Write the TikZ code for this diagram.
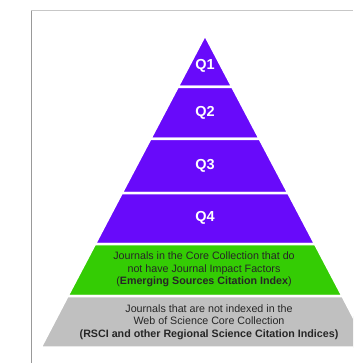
\documentclass[tikz,border=0pt]{standalone}
\usepackage{fontspec}
\setmainfont{Liberation Sans}
\usetikzlibrary{positioning}
\definecolor{tierpurple}{RGB}{104,10,250}
\definecolor{tiergreen}{RGB}{52,204,4}
\definecolor{tiergray}{RGB}{192,192,192}
\tikzset{
  band/.style={fill=#1,draw=white,line width=2.5pt,line join=miter},
  qlabel/.style={text=white,font=\fontsize{14.5}{16}\selectfont\bfseries},
  note/.style={text=black!85,align=center,font=\fontsize{10.7}{12.5}\selectfont}
}

\begin{document}
\begin{tikzpicture}[x=1pt,y=-1pt]
  \useasboundingbox (0,0) rectangle (353,363);
  \clip (0,0) rectangle (353,363);

  % frame
  \draw[black!40,line width=1pt] (31,11)--(31,363);
  \draw[black!22,line width=1pt] (31,11)--(353,11);

  % pyramid bands, top to bottom
  \fill[band=tierpurple] (205,35)--(232.4,87)--(177.6,87)--cycle;
  \fill[band=tierpurple] (177.6,87)--(232.4,87)--(259.8,139)--(150.2,139)--cycle;
  \fill[band=tierpurple] (150.2,139)--(259.8,139)--(288.3,193)--(121.7,193)--cycle;
  \fill[band=tierpurple] (121.7,193)--(288.3,193)--(315.1,244)--(94.9,244)--cycle;
  \fill[band=tiergreen] (94.9,244)--(315.1,244)--(342.5,296)--(67.5,296)--cycle;
  \fill[band=tiergray] (67.5,296)--(342.5,296)--(369.4,347.5)--(40.6,347.5)--cycle;

  \node[qlabel] (q1) at (205,66) {Q1};
  \node[qlabel] (q2) at (205,113) {Q2};
  \node[qlabel] (q3) at (205,166) {Q3};
  \node[qlabel] (q4) at (205,218) {Q4};

  \node[note] (esci) at (204,269.5) {Journals in the Core Collection that do\\
    not have Journal Impact Factors\\
    (\textbf{Emerging Sources Citation Index})};
  \node[note] (rsci) at (209,322) {Journals that are not indexed in the\\
    Web of Science Core Collection\\
    \textbf{(RSCI and other Regional Science Citation Indices)}};
\end{tikzpicture}
\end{document}
